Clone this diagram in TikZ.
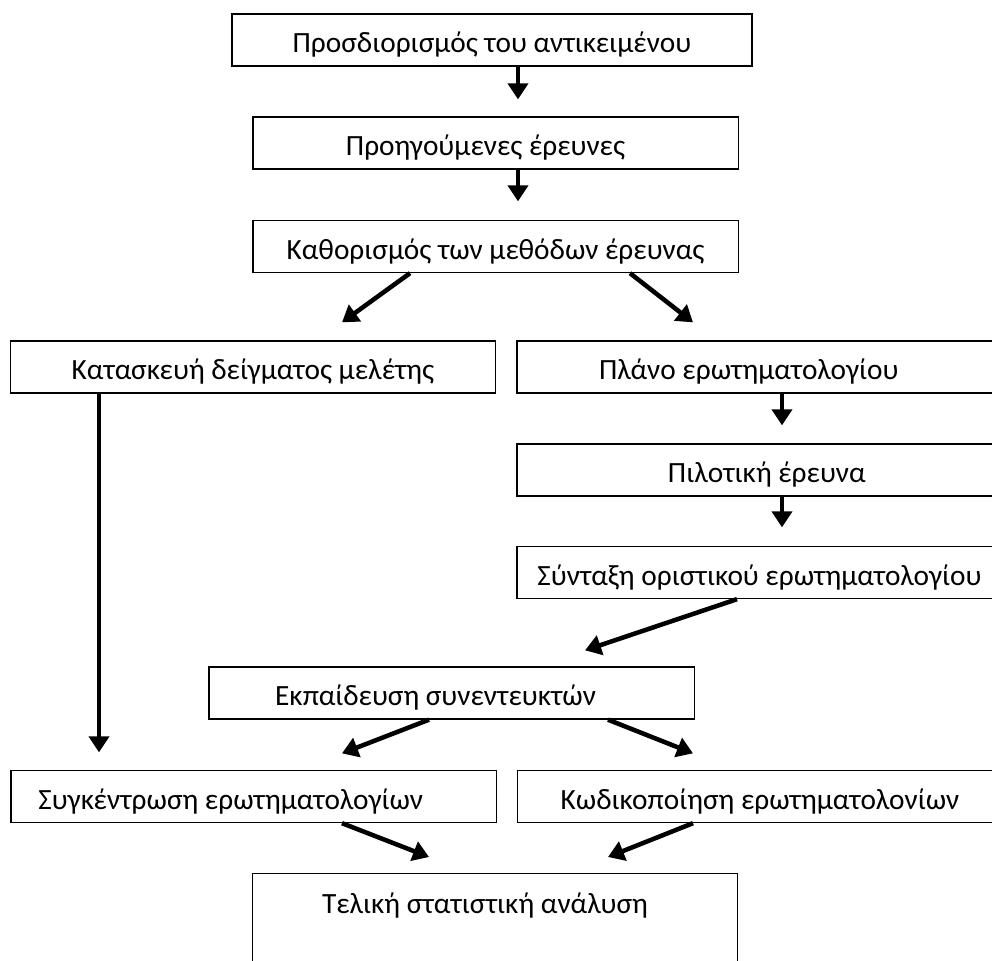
\documentclass[tikz,border=0pt]{standalone}
\usepackage{fontspec}
\setmainfont{Carlito}
\usepackage{tikz}
\usetikzlibrary{arrows.meta}
\tikzset{
    flow-box/.style = {draw=black, line width=1pt, fill=white, rectangle, inner sep=0pt, minimum width=364pt, text height=29pt, text depth=10pt, font=\fontsize{22}{26}\selectfont},
    flow-arrow/.style = {line width=3.4pt, -{Triangle[length=12pt, width=15pt]}},
    text-nudge/.style = {execute at begin node={\hspace*{#1}}},
}
\begin{document}
\begin{tikzpicture}[x=0.75pt, y=0.75pt]
\path[use as bounding box, clip] (0,0) rectangle (992,-960);
% top column
\node [flow-box, minimum width=390pt] (object) at (492,-40) {Προσδιορισμός του αντικειμένου};
\node [flow-box, text-nudge=-15pt] (previous) at (495.5,-143) {Προηγούμενες έρευνες};
\node [flow-box] (methods) at (495.5,-246.5) {Καθορισμός των μεθόδων έρευνας};
% two branches
\node [flow-box] (sample) at (253,-367) {Κατασκευή δείγματος μελέτης};
\node [flow-box, text-nudge=-16pt] (plan) at (759.5,-367) {Πλάνο ερωτηματολογίου};
\node [flow-box, text-nudge=11pt] (pilot) at (759.5,-470) {Πιλοτική έρευνα};
\node [flow-box] (final) at (759.5,-572.5) {Σύνταξη οριστικού ερωτηματολογίου};
\node [flow-box, text-nudge=-24pt] (training) at (451.5,-693) {Εκπαίδευση συνεντευκτών};
\node [flow-box, text-nudge=-34pt] (collect) at (253.5,-796.5) {Συγκέντρωση ερωτηματολογίων};
\node [flow-box] (coding) at (760,-796.5) {Κωδικοποίηση ερωτηματολονίων};
\node [flow-box, anchor=north, text height=30pt, text depth=47pt, text-nudge=-15pt] (analysis) at (495,-873) {Τελική στατιστική ανάλυση};

\draw[flow-arrow] ([shift={(26,0)}]object.south) -- ([shift={(22.5,17)}]previous.north);
\draw[flow-arrow] ([shift={(22.5,0)}]previous.south) -- ([shift={(22.5,18.5)}]methods.north);
\draw[flow-arrow] ([shift={(-85.5,0)}]methods.south) -- ([shift={(89,18)}]sample.north);
\draw[flow-arrow] ([shift={(134.5,0)}]methods.south) -- ([shift={(-66.5,18)}]plan.north);
\draw[flow-arrow] ([shift={(22.5,0)}]plan.south) -- ([shift={(22.5,18)}]pilot.north);
\draw[flow-arrow] ([shift={(22.5,0)}]pilot.south) -- ([shift={(22.5,18.5)}]final.north);
\draw[flow-arrow] ([shift={(-22.5,0)}]final.south) -- ([shift={(133.5,16)}]training.north);
\draw[flow-arrow] ([shift={(-154,0)}]sample.south) -- ([shift={(-154.5,17.5)}]collect.north);
\draw[flow-arrow] ([shift={(-22.5,0)}]training.south) -- ([shift={(88.5,16.5)}]collect.north);
\draw[flow-arrow] ([shift={(156.5,0)}]training.south) -- ([shift={(-67,16.5)}]coding.north);
\draw[flow-arrow] ([shift={(88.5,0)}]collect.south) -- ([shift={(-66,16)}]analysis.north);
\draw[flow-arrow] ([shift={(-67,0)}]coding.south) -- ([shift={(113,16)}]analysis.north);
\end{tikzpicture}
\end{document}
